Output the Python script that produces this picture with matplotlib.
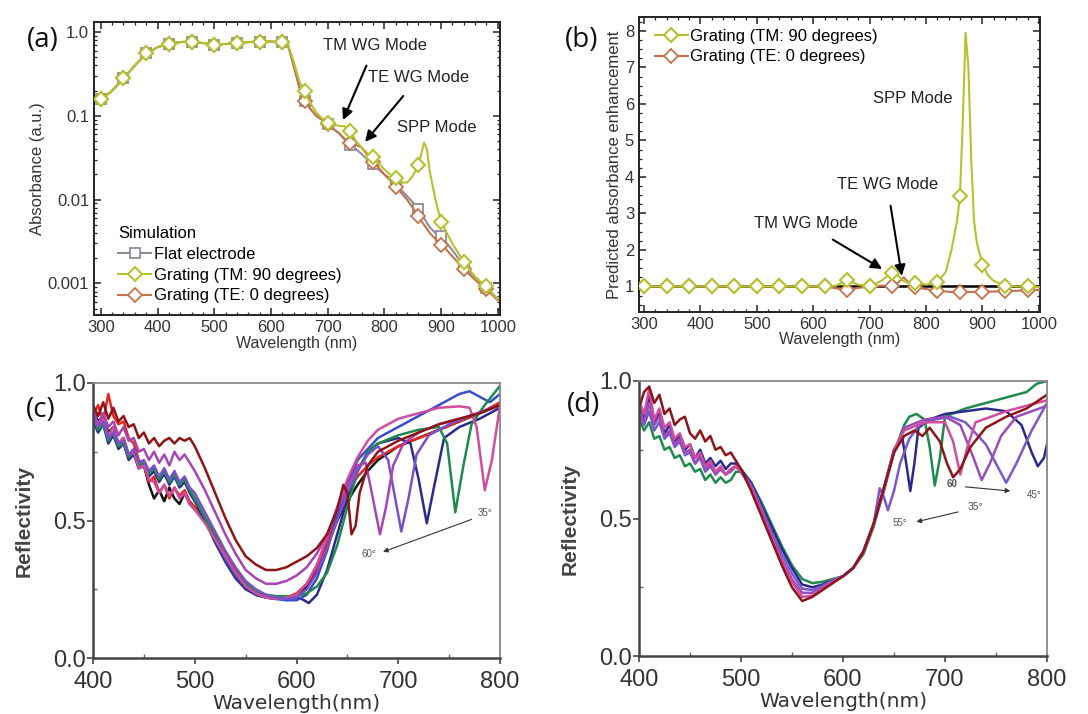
import numpy as np
import matplotlib
matplotlib.use('Agg')
import matplotlib.pyplot as plt
from matplotlib.ticker import MultipleLocator, FixedLocator, FixedFormatter, LogLocator, NullFormatter

plt.rcParams['font.family'] = ['Liberation Sans', 'DejaVu Sans']

# ---------------- (a) simulated absorbance ----------------
wl_mark = [300, 340, 380, 420, 460, 500, 540, 580, 620, 660, 700, 740, 780, 820, 860, 900, 940, 980]
abs_flat_mark = [0.158, 0.285, 0.56, 0.73, 0.77, 0.71, 0.74, 0.77, 0.76, 0.15, 0.08, 0.045, 0.027, 0.016, 0.0078, 0.0037, 0.0016, 0.00088]
abs_tm_mark = [0.158, 0.285, 0.56, 0.73, 0.77, 0.71, 0.74, 0.77, 0.76, 0.20, 0.083, 0.066, 0.032, 0.018, 0.026, 0.0054, 0.0018, 0.00092]
abs_te_mark = [0.158, 0.285, 0.56, 0.73, 0.77, 0.71, 0.74, 0.77, 0.76, 0.15, 0.08, 0.048, 0.028, 0.014, 0.0064, 0.0029, 0.0015, 0.00085]

wl_line_a = [300, 320, 340, 360, 380, 400, 420, 440, 460, 480, 500, 520, 540, 560, 580, 600, 620, 630,
             640, 650, 660, 670, 680, 690, 700, 710, 720, 730, 740, 750, 760, 770, 780, 790, 800, 810,
             820, 830, 840, 850, 860, 865, 870, 875, 880, 890, 900, 910, 920, 940, 960, 980, 1000]
abs_tm_line = [0.155, 0.20, 0.28, 0.40, 0.55, 0.66, 0.73, 0.76, 0.77, 0.74, 0.72, 0.72, 0.74, 0.76, 0.77, 0.77,
               0.76, 0.70, 0.45, 0.26, 0.19, 0.14, 0.11, 0.093, 0.083, 0.078, 0.076, 0.075, 0.065, 0.05,
               0.042, 0.036, 0.031, 0.027, 0.023, 0.020, 0.018, 0.016, 0.016, 0.019, 0.026, 0.035, 0.048,
               0.040, 0.022, 0.010, 0.0055, 0.004, 0.003, 0.0018, 0.0012, 0.0009, 0.00065]
abs_flat_line = [0.155, 0.20, 0.28, 0.40, 0.55, 0.66, 0.73, 0.76, 0.77, 0.74, 0.72, 0.72, 0.74, 0.76, 0.77, 0.77,
                 0.76, 0.70, 0.40, 0.22, 0.15, 0.12, 0.10, 0.09, 0.08, 0.07, 0.062, 0.052, 0.045, 0.040,
                 0.035, 0.030, 0.027, 0.023, 0.020, 0.018, 0.016, 0.013, 0.011, 0.0093, 0.0078, 0.0068, 0.006,
                 0.0053, 0.0047, 0.004, 0.0037, 0.003, 0.0025, 0.0016, 0.0012, 0.00088, 0.00065]
abs_te_line = [0.155, 0.20, 0.28, 0.40, 0.55, 0.66, 0.73, 0.76, 0.77, 0.74, 0.72, 0.72, 0.74, 0.76, 0.77, 0.77,
               0.76, 0.70, 0.40, 0.22, 0.15, 0.12, 0.10, 0.09, 0.08, 0.07, 0.062, 0.053, 0.048, 0.045,
               0.042, 0.034, 0.028, 0.024, 0.020, 0.017, 0.014, 0.012, 0.010, 0.008, 0.0064, 0.0056, 0.005,
               0.0045, 0.004, 0.0034, 0.0029, 0.0025, 0.0021, 0.0015, 0.0011, 0.00085, 0.00063]

# ---------------- (b) predicted enhancement ----------------
enh_tm_mark = [1.0, 1.0, 1.0, 1.0, 1.0, 1.0, 1.0, 1.0, 1.0, 1.17, 1.0, 1.38, 1.1, 1.13, 3.47, 1.6, 1.02, 1.0]
enh_te_mark = [1.0, 1.0, 1.0, 1.0, 1.0, 1.0, 1.0, 1.0, 1.0, 0.9, 1.0, 1.02, 0.98, 0.88, 0.85, 0.85, 0.87, 0.9]
wl_line_b = [300, 340, 380, 420, 460, 500, 540, 580, 620, 640, 660, 680, 700, 720, 740, 750, 760, 770, 780,
             800, 820, 835, 845, 855, 860, 865, 870, 875, 880, 885, 890, 900, 910, 920, 940, 960, 980, 1000]
enh_tm_line = [1.0, 1.0, 1.0, 1.0, 1.0, 1.0, 1.0, 1.0, 1.0, 1.02, 1.17, 1.05, 1.0, 1.15, 1.38, 1.3, 1.15,
               1.1, 1.1, 1.05, 1.12, 1.4, 2.0, 2.8, 3.47, 5.5, 7.95, 7.0, 4.5, 2.8, 2.2, 1.6, 1.3, 1.15,
               1.02, 1.0, 1.0, 0.98]
enh_te_line = [1.0, 1.0, 1.0, 1.0, 1.0, 1.0, 1.0, 1.0, 1.0, 0.95, 0.9, 0.96, 1.0, 1.02, 1.02, 1.1, 1.25,
               1.1, 0.98, 0.93, 0.88, 0.86, 0.85, 0.85, 0.85, 0.85, 0.85, 0.85, 0.85, 0.85, 0.85, 0.85,
               0.86, 0.86, 0.87, 0.88, 0.9, 0.9]

# ---------------- (c) measured reflectivity ----------------
wl_c_left = [400, 405, 410, 415, 420, 425, 430, 435, 440, 445, 450, 455, 460, 465, 470, 475, 480, 485, 490, 495, 500]

wl_c_black = wl_c_left + [510, 520, 530, 540, 550, 560, 570, 580, 590, 600, 610, 620, 630, 640, 650, 660, 670,
                          680, 700, 720, 740, 760, 780, 800]
r_c_black = [0.90, 0.86, 0.88, 0.82, 0.84, 0.78, 0.80, 0.74, 0.75, 0.69, 0.70, 0.63, 0.58, 0.61, 0.57, 0.62,
             0.58, 0.56, 0.60, 0.56, 0.54,
             0.50, 0.44, 0.38, 0.31, 0.26, 0.23, 0.22, 0.215, 0.22, 0.23, 0.26, 0.32, 0.41, 0.50, 0.57,
             0.63, 0.68, 0.72, 0.77, 0.80, 0.83, 0.86, 0.89, 0.92]
wl_c_red = wl_c_black
r_c_red = [0.88, 0.92, 0.86, 0.96, 0.88, 0.85, 0.86, 0.80, 0.78, 0.72, 0.70, 0.64, 0.66, 0.60, 0.63, 0.58,
           0.62, 0.59, 0.61, 0.57, 0.55,
           0.51, 0.45, 0.38, 0.32, 0.27, 0.24, 0.225, 0.22, 0.22, 0.235, 0.27, 0.33, 0.42, 0.52, 0.60,
           0.66, 0.70, 0.73, 0.77, 0.80, 0.83, 0.86, 0.89, 0.93]
wl_c_60 = wl_c_left + [505, 510, 520, 530, 540, 550, 560, 570, 580, 590, 600, 610, 620, 630, 640, 646, 650,
                       654, 658, 662, 670, 680, 700, 720, 740, 760, 780, 800]
r_c_60 = [0.92, 0.88, 0.93, 0.87, 0.91, 0.86, 0.88, 0.84, 0.85, 0.80, 0.82, 0.78, 0.80, 0.77, 0.79, 0.80,
          0.78, 0.80, 0.79, 0.80, 0.77,
          0.73, 0.69, 0.60, 0.51, 0.43, 0.37, 0.34, 0.32, 0.32, 0.33, 0.35, 0.37, 0.40, 0.45, 0.54, 0.63,
          0.60, 0.45, 0.48, 0.60, 0.70, 0.75, 0.79, 0.82, 0.85, 0.87, 0.89, 0.92]
wl_c_55 = wl_c_left + [510, 520, 530, 540, 550, 560, 570, 580, 590, 600, 610, 620, 630, 640, 650, 660, 668,
                       674, 682, 688, 695, 705, 720, 740, 760, 780, 800]
r_c_55 = [0.90, 0.85, 0.89, 0.84, 0.86, 0.81, 0.84, 0.79, 0.80, 0.75, 0.76, 0.72, 0.75, 0.71, 0.74, 0.70,
          0.75, 0.72, 0.74, 0.71, 0.68,
          0.61, 0.53, 0.45, 0.38, 0.32, 0.29, 0.27, 0.27, 0.28, 0.30, 0.33, 0.38, 0.45, 0.54, 0.62, 0.70,
          0.71, 0.60, 0.45, 0.55, 0.70, 0.78, 0.82, 0.85, 0.87, 0.89, 0.92]
wl_c_50 = wl_c_left + [510, 520, 530, 540, 550, 560, 570, 580, 590, 600, 610, 620, 630, 640, 650, 660, 670,
                       680, 690, 697, 703, 710, 718, 730, 750, 770, 800]
r_c_50 = [0.88, 0.84, 0.86, 0.80, 0.82, 0.78, 0.79, 0.74, 0.76, 0.71, 0.72, 0.68, 0.70, 0.66, 0.69, 0.65,
          0.68, 0.64, 0.66, 0.62, 0.60,
          0.53, 0.46, 0.39, 0.33, 0.28, 0.25, 0.23, 0.22, 0.215, 0.22, 0.25, 0.31, 0.40, 0.50, 0.60, 0.68,
          0.74, 0.77, 0.72, 0.58, 0.46, 0.58, 0.74, 0.81, 0.85, 0.88, 0.92]
wl_c_45 = wl_c_left + [510, 520, 530, 540, 550, 560, 570, 580, 590, 600, 605, 612, 620, 630, 640, 650, 660,
                       670, 680, 700, 712, 720, 728, 735, 745, 760, 780, 800]
r_c_45 = [0.86, 0.82, 0.85, 0.78, 0.81, 0.76, 0.78, 0.72, 0.74, 0.69, 0.70, 0.66, 0.68, 0.64, 0.67, 0.63,
          0.66, 0.62, 0.64, 0.60, 0.57,
          0.50, 0.42, 0.35, 0.29, 0.25, 0.23, 0.22, 0.215, 0.215, 0.22, 0.215, 0.20, 0.23, 0.32, 0.45,
          0.58, 0.68, 0.75, 0.78, 0.80, 0.78, 0.65, 0.49, 0.62, 0.80, 0.84, 0.87, 0.91]
wl_c_blue = wl_c_left + [510, 520, 530, 540, 550, 560, 570, 580, 590, 600, 610, 620, 630, 640, 650, 660, 680,
                         700, 720, 740, 760, 770, 780, 790, 800]
r_c_blue = [0.87, 0.83, 0.86, 0.80, 0.82, 0.77, 0.79, 0.73, 0.75, 0.70, 0.71, 0.67, 0.69, 0.65, 0.68, 0.64,
            0.66, 0.63, 0.65, 0.61, 0.58,
            0.51, 0.43, 0.36, 0.30, 0.26, 0.235, 0.22, 0.215, 0.21, 0.21, 0.23, 0.29, 0.39, 0.52, 0.63,
            0.72, 0.80, 0.84, 0.88, 0.92, 0.96, 0.97, 0.95, 0.93, 0.96]
wl_c_40 = wl_c_left + [510, 520, 530, 540, 550, 560, 570, 580, 590, 600, 610, 620, 630, 640, 650, 660, 670,
                       680, 700, 720, 740, 748, 756, 764, 772, 785, 800]
r_c_40 = [0.87, 0.83, 0.85, 0.79, 0.82, 0.77, 0.78, 0.73, 0.75, 0.70, 0.71, 0.67, 0.69, 0.65, 0.68, 0.64,
          0.67, 0.63, 0.65, 0.61, 0.58,
          0.51, 0.44, 0.37, 0.31, 0.27, 0.24, 0.23, 0.225, 0.225, 0.225, 0.235, 0.26, 0.31, 0.41, 0.55,
          0.68, 0.75, 0.78, 0.81, 0.83, 0.84, 0.78, 0.53, 0.70, 0.85, 0.92, 0.99]
wl_c_35 = wl_c_left + [510, 520, 530, 540, 550, 560, 570, 580, 590, 600, 610, 620, 630, 640, 650, 660, 670,
                       680, 700, 720, 740, 760, 770, 777, 785, 792, 800]
r_c_35 = [0.89, 0.84, 0.87, 0.81, 0.84, 0.78, 0.80, 0.74, 0.75, 0.69, 0.70, 0.65, 0.64, 0.60, 0.63, 0.59,
          0.62, 0.58, 0.60, 0.56, 0.54,
          0.49, 0.43, 0.37, 0.31, 0.26, 0.235, 0.22, 0.215, 0.22, 0.23, 0.27, 0.34, 0.44, 0.55, 0.65,
          0.73, 0.79, 0.83, 0.87, 0.89, 0.91, 0.915, 0.91, 0.84, 0.61, 0.72, 0.92]

# ---------------- (d) measured reflectivity ----------------
wl_d_left = [400, 405, 410, 415, 420, 425, 430, 435, 440, 445, 450, 455, 460, 465, 470, 475, 480, 485, 490, 495, 500,
             510, 520, 530, 540, 550, 560, 570, 580, 590, 600, 610, 620, 630]

wl_d_red = wl_d_left + [640, 650, 660, 670, 678, 685, 695, 702, 708, 715, 725, 740, 760, 780, 800]
r_d_red = [0.90, 0.96, 0.98, 0.92, 0.95, 0.88, 0.90, 0.84, 0.86, 0.87, 0.81, 0.79, 0.82, 0.78, 0.80, 0.75,
           0.76, 0.73, 0.74, 0.71, 0.68,
           0.60, 0.51, 0.42, 0.33, 0.25, 0.20, 0.215, 0.24, 0.265, 0.29, 0.32, 0.38, 0.48,
           0.61, 0.74, 0.80, 0.82, 0.80, 0.83, 0.78, 0.70, 0.65, 0.68, 0.76, 0.83, 0.87, 0.90, 0.95]
wl_d_green = wl_d_left + [640, 650, 660, 665, 672, 680, 685, 690, 695, 700, 720, 740, 760, 780, 790, 800]
r_d_green = [0.86, 0.82, 0.85, 0.79, 0.80, 0.75, 0.76, 0.72, 0.73, 0.69, 0.70, 0.67, 0.68, 0.64, 0.66, 0.63,
             0.65, 0.63, 0.64, 0.67, 0.67,
             0.63, 0.56, 0.48, 0.40, 0.33, 0.28, 0.265, 0.27, 0.28, 0.29, 0.32, 0.37, 0.47,
             0.60, 0.74, 0.84, 0.87, 0.88, 0.86, 0.76, 0.62, 0.72, 0.87, 0.90, 0.92, 0.94, 0.96, 0.99, 1.0]
wl_d_pink = wl_d_left + [640, 650, 660, 680, 700, 708, 715, 722, 730, 760, 800]
r_d_pink = [0.93, 0.88, 0.97, 0.86, 0.90, 0.83, 0.85, 0.79, 0.81, 0.76, 0.77, 0.72, 0.74, 0.69, 0.71, 0.67,
            0.69, 0.66, 0.68, 0.69, 0.67,
            0.61, 0.52, 0.43, 0.34, 0.27, 0.215, 0.22, 0.245, 0.27, 0.29, 0.32, 0.38, 0.48,
            0.61, 0.75, 0.82, 0.85, 0.85, 0.78, 0.66, 0.76, 0.85, 0.89, 0.93]
wl_d_purple = wl_d_left + [640, 650, 660, 680, 700, 715, 728, 736, 744, 755, 770, 800]
r_d_purple = [0.90, 0.85, 0.92, 0.84, 0.87, 0.80, 0.82, 0.77, 0.79, 0.74, 0.75, 0.70, 0.73, 0.68, 0.70, 0.66,
              0.68, 0.66, 0.68, 0.69, 0.67,
              0.62, 0.53, 0.44, 0.35, 0.28, 0.23, 0.23, 0.25, 0.27, 0.29, 0.32, 0.38, 0.48,
              0.60, 0.74, 0.83, 0.86, 0.87, 0.84, 0.72, 0.64, 0.70, 0.80, 0.87, 0.91]
wl_d_violet = wl_d_left + [636, 640, 644, 650, 656, 665, 675, 690, 705, 720, 740, 750, 760, 770, 785, 800]
r_d_violet = [0.88, 0.84, 0.89, 0.82, 0.85, 0.79, 0.81, 0.76, 0.78, 0.73, 0.74, 0.70, 0.72, 0.67, 0.69, 0.66,
              0.68, 0.66, 0.67, 0.69, 0.67,
              0.62, 0.54, 0.45, 0.37, 0.30, 0.245, 0.24, 0.255, 0.275, 0.29, 0.32, 0.38, 0.48,
              0.61, 0.58, 0.53, 0.60, 0.70, 0.79, 0.84, 0.86, 0.87, 0.85, 0.77, 0.70, 0.63, 0.70, 0.82, 0.92]
wl_d_navy = wl_d_left + [640, 650, 658, 662, 666, 670, 674, 685, 700, 720, 740, 760, 775, 785, 791, 797, 800]
r_d_navy = [0.91, 0.86, 0.94, 0.85, 0.88, 0.81, 0.84, 0.78, 0.80, 0.75, 0.77, 0.72, 0.75, 0.70, 0.72, 0.69,
            0.71, 0.68, 0.70, 0.70, 0.68,
            0.63, 0.55, 0.47, 0.39, 0.32, 0.26, 0.25, 0.26, 0.275, 0.29, 0.32, 0.38, 0.48,
            0.61, 0.75, 0.80, 0.70, 0.60, 0.70, 0.83, 0.86, 0.88, 0.89, 0.90, 0.89, 0.84, 0.74, 0.69, 0.72, 0.77]

c_tm = '#b5c22e'
c_te = '#c4734c'
c_flat = '#8c8c9e'

fig = plt.figure(figsize=(10.88, 7.14), dpi=100)

# ===== (a) =====
ax = fig.add_axes([0.0864, 0.5588, 0.3732, 0.4104])
ax.plot(wl_line_a, abs_flat_line, color=c_flat, lw=1.5, zorder=2)
ax.plot(wl_mark, abs_flat_mark, 's', ms=6.5, mfc='white', mec=c_flat, mew=1.3, zorder=2)
ax.plot(wl_line_a, abs_te_line, color=c_te, lw=1.5, zorder=3)
ax.plot(wl_mark, abs_te_mark, 'D', ms=7, mfc='white', mec=c_te, mew=1.3, zorder=3)
ax.plot(wl_line_a, abs_tm_line, color=c_tm, lw=1.5, zorder=4)
ax.plot(wl_mark, abs_tm_mark, 'D', ms=7, mfc='white', mec=c_tm, mew=1.5, zorder=4)
h1, = ax.plot([], [], '-s', color=c_flat, ms=6.5, mfc='white', mec=c_flat, mew=1.3, lw=1.5)
h2, = ax.plot([], [], '-D', color=c_tm, ms=7, mfc='white', mec=c_tm, mew=1.5, lw=1.5)
h3, = ax.plot([], [], '-D', color=c_te, ms=7, mfc='white', mec=c_te, mew=1.3, lw=1.5)
leg = ax.legend([h1, h2, h3], ['Flat electrode', 'Grating (TM: 90 degrees)', 'Grating (TE: 0 degrees)'],
                title='Simulation', loc='lower left', frameon=False, fontsize=12, title_fontsize=12,
                handlelength=2.0, handletextpad=0.15, labelspacing=0.35, borderaxespad=0.3,
                bbox_to_anchor=(0.03, 0.0))
leg._legend_box.align = 'left'
ax.set_yscale('log')
ax.set_xlim(288, 1004)
ax.set_ylim(4.2e-4, 1.32)
ax.yaxis.set_major_locator(FixedLocator([0.001, 0.01, 0.1, 1.0]))
ax.yaxis.set_major_formatter(FixedFormatter(['0.001', '0.01', '0.1', '1.0']))
ax.yaxis.set_minor_locator(LogLocator(base=10, subs=np.arange(2, 10)))
ax.yaxis.set_minor_formatter(NullFormatter())
ax.xaxis.set_major_locator(MultipleLocator(100))
ax.xaxis.set_minor_locator(MultipleLocator(20))
ax.set_xlabel('Wavelength (nm)', fontsize=11.5, color='#333', labelpad=1)
ax.set_ylabel('Absorbance (a.u.)', fontsize=12, color='#333', labelpad=2)
ax.annotate('TM WG Mode', xy=(727, 0.089), xytext=(784, 0.70), ha='center', va='center', fontsize=12,
            color='#222', arrowprops=dict(arrowstyle='-|>', color='black', lw=1.5, mutation_scale=16,
                                          shrinkA=8, shrinkB=0))
ax.annotate('TE WG Mode', xy=(766, 0.049), xytext=(861, 0.29), ha='center', va='center', fontsize=12,
            color='#222', arrowprops=dict(arrowstyle='-|>', color='black', lw=1.5, mutation_scale=16,
                                          shrinkA=8, shrinkB=0))
ax.text(893, 0.072, 'SPP Mode', ha='center', va='center', fontsize=12, color='#222')

# ===== (b) =====
bx = fig.add_axes([0.5873, 0.5630, 0.3686, 0.4132])
bx.axhline(1.0, color='black', lw=1.8, zorder=1)
bx.plot(wl_line_b, enh_te_line, color=c_te, lw=1.5, zorder=3)
bx.plot(wl_mark, enh_te_mark, 'D', ms=7.5, mfc='white', mec=c_te, mew=1.3, zorder=3)
bx.plot(wl_line_b, enh_tm_line, color=c_tm, lw=1.5, zorder=4)
bx.plot(wl_mark, enh_tm_mark, 'D', ms=7.5, mfc='white', mec=c_tm, mew=1.5, zorder=4)
g1, = bx.plot([], [], '-D', color=c_tm, ms=7.5, mfc='white', mec=c_tm, mew=1.5, lw=1.5)
g2, = bx.plot([], [], '-D', color=c_te, ms=7.5, mfc='white', mec=c_te, mew=1.3, lw=1.5)
bx.legend([g1, g2], ['Grating (TM: 90 degrees)', 'Grating (TE: 0 degrees)'], loc='upper left',
          frameon=False, fontsize=12, handlelength=2.0, handletextpad=0.15, labelspacing=0.35,
          borderaxespad=0.3, bbox_to_anchor=(0.01, 1.0))
bx.set_xlim(291, 1002)
bx.set_ylim(0.3, 8.38)
bx.yaxis.set_major_locator(MultipleLocator(1))
bx.yaxis.set_minor_locator(MultipleLocator(0.25))
bx.xaxis.set_major_locator(MultipleLocator(100))
bx.xaxis.set_minor_locator(MultipleLocator(20))
bx.set_xlabel('Wavelength (nm)', fontsize=11.5, color='#333', labelpad=0)
bx.set_ylabel('Predicted absorbance enhancement', fontsize=12, color='#333', labelpad=2)
bx.annotate('TM WG Mode', xy=(722, 1.48), xytext=(587, 2.72), ha='center', va='center', fontsize=12,
            color='#222', arrowprops=dict(arrowstyle='-|>', color='black', lw=1.5, mutation_scale=16,
                                          shrinkA=8, shrinkB=0))
bx.annotate('TE WG Mode', xy=(757, 1.29), xytext=(731, 3.79), ha='center', va='center', fontsize=12,
            color='#222', arrowprops=dict(arrowstyle='-|>', color='black', lw=1.5, mutation_scale=16,
                                          shrinkA=8, shrinkB=0))
bx.text(777, 6.15, 'SPP Mode', ha='center', va='center', fontsize=12, color='#222')

for a in (ax, bx):
    for s in a.spines.values():
        s.set_linewidth(1.4)
        s.set_color('#222')
    a.tick_params(which='both', direction='in', top=True, right=True, colors='#222', labelcolor='#333',
                  labelsize=12)
    a.tick_params(which='major', length=5, width=1.1)
    a.tick_params(which='minor', length=2.5, width=0.9)

# ===== (c) & (d) =====
cx = fig.add_axes([0.0855, 0.0784, 0.3741, 0.3852])
dx = fig.add_axes([0.5873, 0.0812, 0.3750, 0.3852])

curves_c = [(wl_c_black, r_c_black, '#111111'), (wl_c_red, r_c_red, '#e8261e'),
            (wl_c_45, r_c_45, '#2a2a8c'), (wl_c_blue, r_c_blue, '#3a4cc8'),
            (wl_c_40, r_c_40, '#1f8a4e'), (wl_c_35, r_c_35, '#d04c9e'),
            (wl_c_50, r_c_50, '#7a50c8'), (wl_c_55, r_c_55, '#a646b4'),
            (wl_c_60, r_c_60, '#8e1418')]
for xs, ys, col in curves_c:
    cx.plot(xs, ys, color=col, lw=1.8)

curves_d = [(wl_d_green, r_d_green, '#1f8a4e'), (wl_d_navy, r_d_navy, '#2a2a8c'),
            (wl_d_violet, r_d_violet, '#7a58c8'), (wl_d_purple, r_d_purple, '#9a4cb8'),
            (wl_d_pink, r_d_pink, '#d04c9e'), (wl_d_red, r_d_red, '#8e1418')]
for xs, ys, col in curves_d:
    dx.plot(xs, ys, color=col, lw=1.8)

for a in (cx, dx):
    a.set_xlim(400, 800)
    a.set_ylim(0, 1.0)
    a.xaxis.set_major_locator(MultipleLocator(100))
    a.xaxis.set_minor_locator(MultipleLocator(50))
    a.yaxis.set_major_locator(FixedLocator([0.0, 0.5, 1.0]))
    a.yaxis.set_major_formatter(FixedFormatter(['0.0', '0.5', '1.0']))
    a.yaxis.set_minor_locator(MultipleLocator(0.25))
    for side in ('left', 'bottom'):
        a.spines[side].set_color('#444')
        a.spines[side].set_linewidth(1.8)
    for side in ('top', 'right'):
        a.spines[side].set_color('#888')
        a.spines[side].set_linewidth(1.3)
    a.tick_params(which='major', direction='out', length=4, width=1.2, colors='#444', labelsize=17,
                  labelcolor='#333', pad=1)
    a.tick_params(axis='x', which='major', pad=5)
    a.tick_params(which='minor', direction='in', length=3, width=1, colors='#666')
    a.set_xlabel('Wavelength(nm)', fontsize=14.5, color='#333', family=['DejaVu Sans'], labelpad=1)
    a.set_ylabel('Reflectivity', fontsize=15, color='#444', fontweight='bold', labelpad=14)

arrow_thin = dict(arrowstyle='-|>', color='#333', lw=0.8, mutation_scale=7, shrinkA=0, shrinkB=0)
cx.annotate('', xy=(685, 0.386), xytext=(772, 0.504), arrowprops=arrow_thin)
cx.text(785, 0.526, '35°', fontsize=7, color='#555', ha='center', va='center')
cx.text(671, 0.38, '60°', fontsize=7, color='#555', ha='center', va='center')

dx.annotate('', xy=(764, 0.60), xytext=(720, 0.615), arrowprops=arrow_thin)
dx.annotate('', xy=(672, 0.488), xytext=(713, 0.524), arrowprops=arrow_thin)
dx.text(707, 0.627, '60', fontsize=7, color='#555', ha='center', va='center', fontweight='bold')
dx.text(787, 0.585, '45°', fontsize=7, color='#555', ha='center', va='center')
dx.text(730, 0.542, '35°', fontsize=7.5, color='#555', ha='center', va='center')
dx.text(656, 0.482, '55°', fontsize=7, color='#555', ha='center', va='center')

# panel letters
for lx, ly, lab in [(0.039, 0.944, '(a)'), (0.535, 0.944, '(b)'), (0.037, 0.426, '(c)'), (0.536, 0.433, '(d)')]:
    fig.text(lx, ly, lab, fontsize=20, ha='center', va='center', color='#111', family=['Open Sans', 'DejaVu Sans'])

fig.savefig('out.png', dpi=100, facecolor='white')
